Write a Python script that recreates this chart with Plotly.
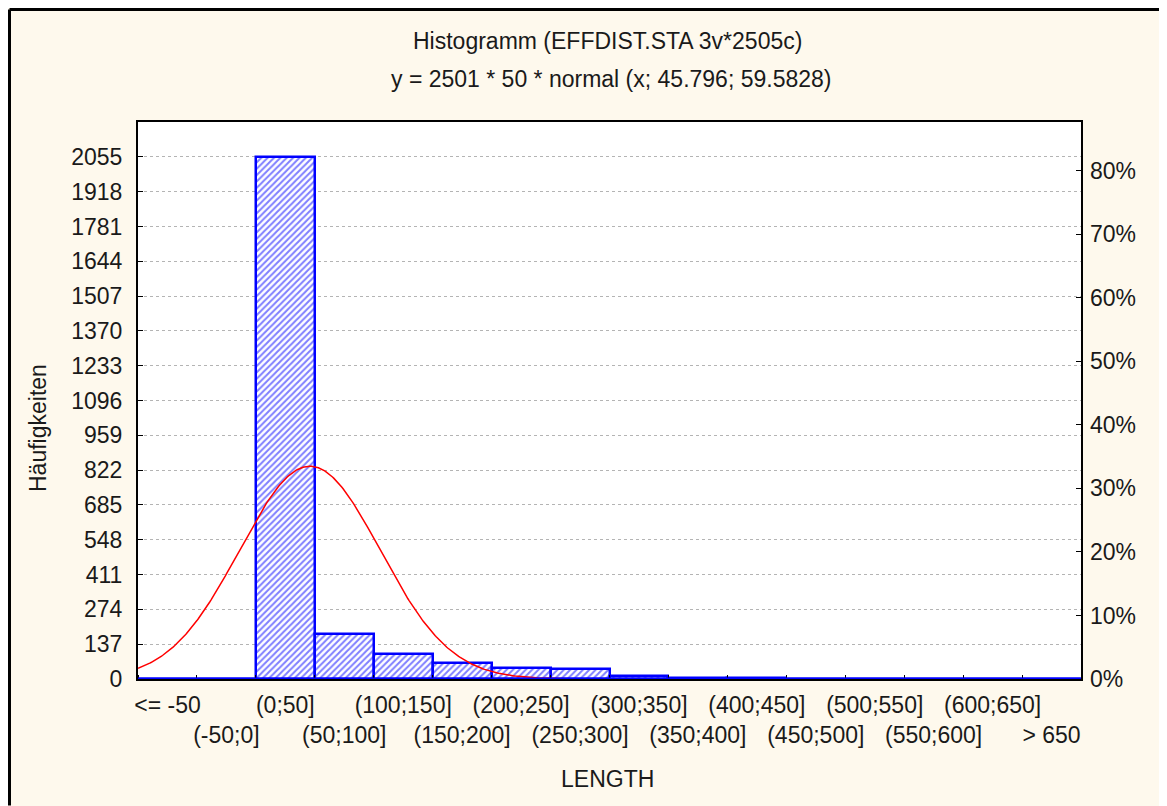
import numpy as np
import plotly.graph_objects as go

# ---- data ----
categories = ["<= -50", "(-50;0]", "(0;50]", "(50;100]", "(100;150]", "(150;200]",
              "(200;250]", "(250;300]", "(300;350]", "(350;400]", "(400;450]",
              "(450;500]", "(500;550]", "(550;600]", "(600;650]", "> 650"]
bin_centers = [-75, -25, 25, 75, 125, 175, 225, 275, 325, 375, 425, 475, 525, 575, 625, 675]
bin_edges = [-100, -50, 0, 50, 100, 150, 200, 250, 300, 350, 400, 450, 500, 550, 600, 650, 700]
counts = [0, 0, 2055, 176, 99, 63, 45, 40, 13, 3, 2, 1, 1, 1, 0, 1]
y_ticks = [0, 137, 274, 411, 548, 685, 822, 959, 1096, 1233, 1370, 1507, 1644, 1781, 1918, 2055]
pct_ticks = [0, 10, 20, 30, 40, 50, 60, 70, 80]
N_total = 2501
bin_width = 50
fit_mean = 45.796
fit_sd = 59.5828

FONT = "Liberation Sans, Arial, sans-serif"
FS = 23
TXT = "#1a1a1a"

# fitted normal curve from title formula
xc = np.linspace(-100, 700, 801)
yc = N_total * bin_width * np.exp(-0.5 * ((xc - fit_mean) / fit_sd) ** 2) / (fit_sd * np.sqrt(2 * np.pi))

ymax = 2192
ticktext = [c if i % 2 == 0 else "<br>" + c for i, c in enumerate(categories)]

fig = go.Figure()
fig.add_trace(go.Bar(
    x=bin_centers, y=counts, width=bin_width,
    marker=dict(color="white", line=dict(color="#0000ff", width=2.5),
                pattern=dict(shape="/", fgcolor="#0000ff", bgcolor="white", size=4.5, solidity=0.45)),
    showlegend=False, hoverinfo="skip"))
fig.add_trace(go.Scatter(x=xc, y=yc, mode="lines", line=dict(color="#ff0000", width=1.5),
                         showlegend=False, hoverinfo="skip"))
fig.add_trace(go.Scatter(x=bin_centers, y=[c / N_total * 100 for c in counts], yaxis="y2",
                         mode="markers", marker=dict(opacity=0), showlegend=False, hoverinfo="skip"))

fig.update_layout(
    width=1159, height=798,
    margin=dict(l=130, r=86, t=114, b=127),
    paper_bgcolor="#fef9ed", plot_bgcolor="white",
    font=dict(family=FONT, size=FS, color=TXT),
    bargap=0,
    xaxis=dict(range=[-100, 700], tickmode="array", tickvals=bin_centers, ticktext=ticktext,
               tickangle=0, ticks="", showgrid=False, zeroline=False,
               showline=True, linecolor="black", linewidth=2, mirror=True,
               tickfont=dict(family=FONT, size=FS, color=TXT), ticklabelstandoff=4,
               minor=dict(tickmode="array", tickvals=bin_edges, ticks="inside", ticklen=4,
                          tickcolor="black", tickwidth=1, showgrid=False)),
    yaxis=dict(range=[0, ymax], tickmode="array", tickvals=y_ticks, ticks="inside", ticklen=5,
               tickcolor="black", showgrid=True, gridcolor="#b4b4b4", griddash="dot", gridwidth=1,
               zeroline=False, showline=True, linecolor="black", linewidth=2, mirror=True,
               tickfont=dict(family=FONT, size=FS, color=TXT), ticklabelstandoff=9),
    yaxis2=dict(range=[0, ymax / N_total * 100], overlaying="y", side="right", anchor="x",
                tickmode="array", tickvals=pct_ticks, ticktext=[f"{v}%" for v in pct_ticks],
                ticks="inside", ticklen=5, tickcolor="black", showgrid=False, zeroline=False,
                showline=False, tickfont=dict(family=FONT, size=FS, color=TXT), ticklabelstandoff=8),
)

# blue baseline
fig.add_shape(type="line", xref="x", yref="y", x0=-100, x1=700, y0=0, y1=0,
              line=dict(color="#0000ff", width=3), layer="above")

# outer frame (figure edge, left and top)
bx = -128.5 / 943
by = 1 + 112.5 / 557
right_edge = (1159 - 130 - 0.5) / 943
bottom_edge = -(127 - 0.5) / 557
fig.add_shape(type="line", xref="paper", yref="paper", x0=bx, x1=bx, y0=bottom_edge, y1=by,
              line=dict(color="black", width=3), layer="above")
fig.add_shape(type="line", xref="paper", yref="paper", x0=bx, x1=right_edge, y0=by, y1=by,
              line=dict(color="black", width=3), layer="above")

# titles
fig.add_annotation(text="Histogramm (EFFDIST.STA 3v*2505c)", xref="paper", yref="paper",
                   x=(607 - 138) / 943, y=(679 - 41) / 557, showarrow=False,
                   xanchor="center", yanchor="middle", font=dict(family=FONT, size=FS, color=TXT))
fig.add_annotation(text="y = 2501 * 50 * normal (x; 45.796; 59.5828)", xref="paper", yref="paper",
                   x=(611 - 138) / 943, y=(679 - 79) / 557, showarrow=False,
                   xanchor="center", yanchor="middle", font=dict(family=FONT, size=FS, color=TXT))
fig.add_annotation(text="LENGTH", xref="paper", yref="paper",
                   x=(607 - 138) / 943, y=(679 - 779) / 557, showarrow=False,
                   xanchor="center", yanchor="middle", font=dict(family=FONT, size=FS, color=TXT))
fig.add_annotation(text="Häufigkeiten", xref="paper", yref="paper", textangle=-90,
                   x=(38 - 138) / 943, y=(679 - 428) / 557, showarrow=False,
                   xanchor="center", yanchor="middle", font=dict(family=FONT, size=FS, color=TXT))

fig.write_html("out.html", post_script="document.body.style.overflow='hidden';")
